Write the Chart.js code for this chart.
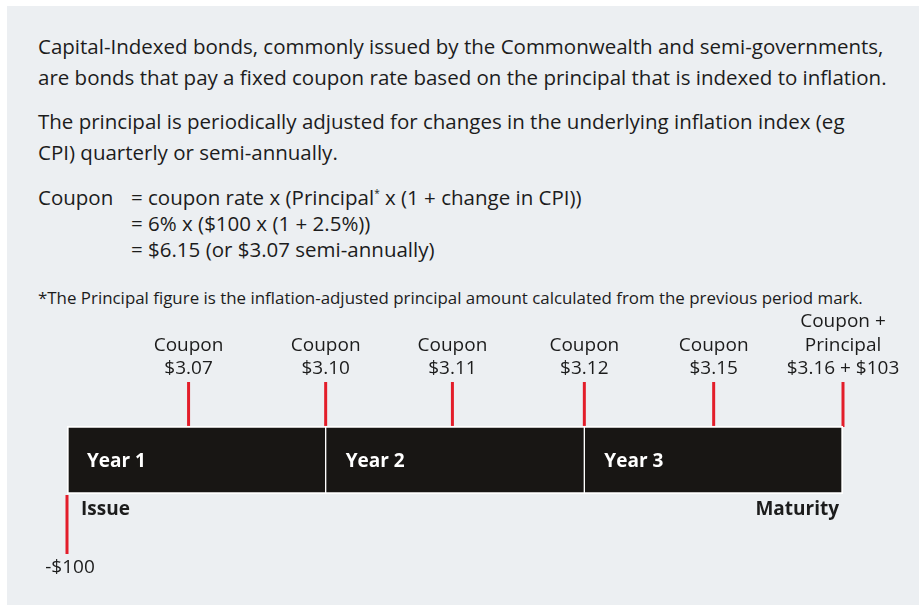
<!DOCTYPE html>
<html>
<head>
<meta charset="utf-8">
<script src="https://cdn.jsdelivr.net/npm/chart.js@4/dist/chart.umd.min.js"></script>
<style>
  html, body { margin: 0; padding: 0; background: #ffffff; }
  body { width: 919px; height: 605px; position: relative; overflow: hidden;
         font-family: "Open Sans", "Noto Sans", sans-serif; color: #1c1c1c; }
  #panel { position: absolute; left: 7px; top: 6px; right: 0; bottom: 0; background: #ECEFF2; }
  .t { position: absolute; left: 38px; font-size: 20.5px; white-space: nowrap; }
  .p { line-height: 31px; }
  .f { line-height: 26px; }
  .fn { font-size: 16.9px; line-height: 20px; }
  sup { font-size: 10px; vertical-align: 8px; line-height: 0; }
  #chart { position: absolute; left: 0; top: 0; }
</style>
</head>
<body>
<div id="panel"></div>
<div class="t p" style="top:31px">Capital-Indexed bonds, commonly issued by the Commonwealth and semi-governments,<br>are bonds that pay a fixed coupon rate based on the principal that is indexed to inflation.</div>
<div class="t p" style="top:106px">The principal is periodically adjusted for changes in the underlying inflation index (eg<br>CPI) quarterly or semi-annually.</div>
<div class="t f" style="top:184px">Coupon</div>
<div class="t f" style="top:184px; left:131px">= coupon rate x (Principal<sup>*</sup> x (1 + change in CPI))<br>= 6% x ($100 x (1 + 2.5%))<br>= $6.15 (or $3.07 semi-annually)</div>
<div class="t fn" style="top:288px">*The Principal figure is the inflation-adjusted principal amount calculated from the previous period mark.</div>
<canvas id="chart" width="919" height="605"></canvas>
<script>
// ---- data ----
const years = ["Year 1", "Year 2", "Year 3"];
const yearSpans = [[0, 1], [1, 2], [2, 3]];
const couponTimes = [0.47, 1, 1.49, 2, 2.5, 3];
const couponAmounts = [3.07, 3.10, 3.11, 3.12, 3.15, 3.16];
const principalRepaid = 103;
const issueTime = 0;
const issuePrice = -100;
const issueLabel = "Issue";
const maturityLabel = "Maturity";

// ---- chart ----
const RED = "#E31D2A";
const tickDatasets = couponTimes.map(t => ({
  type: "line",
  indexAxis: "x",
  data: [{ x: t, y: 3.3 }, { x: t, y: 7.8 }],
  borderColor: RED, borderWidth: 3, borderCapStyle: "butt",
  pointRadius: 0, clip: false
}));
tickDatasets.push({
  type: "line",
  indexAxis: "x",
  data: [{ x: issueTime, y: -3.5 }, { x: issueTime, y: -9.4 }],
  borderColor: RED, borderWidth: 3, borderCapStyle: "butt",
  pointRadius: 0, clip: false
});

const labelPlugin = {
  id: "timelineLabels",
  afterDatasetsDraw(chart) {
    const ctx = chart.ctx, xs = chart.scales.x, ys = chart.scales.y;
    ctx.save();
    ctx.textBaseline = "middle";
    const normal = '19px "Open Sans", "Noto Sans", sans-serif';
    const bold = 'bold 19px "Open Sans", "Noto Sans", sans-serif';
    // coupon labels
    ctx.fillStyle = "#1c1c1c";
    ctx.font = normal;
    ctx.textAlign = "center";
    couponTimes.forEach((t, i) => {
      const px = xs.getPixelForValue(t);
      const top = ys.getPixelForValue(7.8);
      const last = i === couponTimes.length - 1;
      const lines = last
        ? ["Coupon +", "Principal", "$" + couponAmounts[i].toFixed(2) + " + $" + principalRepaid]
        : ["Coupon", "$" + couponAmounts[i].toFixed(2)];
      lines.forEach((s, k) => {
        const y = top - 13 - (lines.length - 1 - k) * 23.5;
        ctx.fillText(s, px, y);
      });
    });
    // year labels
    ctx.font = bold;
    ctx.fillStyle = "#ffffff";
    ctx.textAlign = "left";
    const by = ys.getPixelForValue(0);
    yearSpans.forEach((s, i) => {
      ctx.fillText(years[i], xs.getPixelForValue(s[0]) + 20, by + 2);
    });
    // issue / maturity
    ctx.fillStyle = "#1c1c1c";
    ctx.fillText(issueLabel, xs.getPixelForValue(issueTime) + 14, by + 50);
    ctx.textAlign = "right";
    ctx.fillText(maturityLabel, xs.getPixelForValue(3) - 4, by + 50);
    // issue price
    ctx.font = normal;
    ctx.textAlign = "center";
    const ip = (issuePrice < 0 ? "-$" : "$") + Math.abs(issuePrice);
    ctx.fillText(ip, xs.getPixelForValue(issueTime) + 3, ys.getPixelForValue(-9.4) + 14);
    ctx.restore();
  }
};

new Chart(document.getElementById("chart"), {
  type: "bar",
  data: {
    datasets: [{
      type: "bar",
      indexAxis: "y",
      data: yearSpans.map(s => ({ x: s, y: 0 })),
      backgroundColor: "#181614",
      borderColor: "#ffffff",
      borderWidth: ctx => ({
        top: 2, bottom: 2,
        left: ctx.dataIndex === 0 ? 2 : 1,
        right: ctx.dataIndex === yearSpans.length - 1 ? 2 : 1
      }),
      borderSkipped: false,
      barThickness: 68,
      grouped: false
    }, ...tickDatasets]
  },
  options: {
    responsive: false,
    animation: false,
    indexAxis: "y",
    layout: { padding: { left: 67, right: 76, top: 300, bottom: 5 } },
    scales: {
      x: { type: "linear", min: 0, max: 3, display: false, offset: false },
      y: { type: "linear", min: -14, max: 16, display: false, offset: false }
    },
    plugins: { legend: { display: false }, tooltip: { enabled: false } }
  },
  plugins: [labelPlugin]
});
</script>
</body>
</html>
